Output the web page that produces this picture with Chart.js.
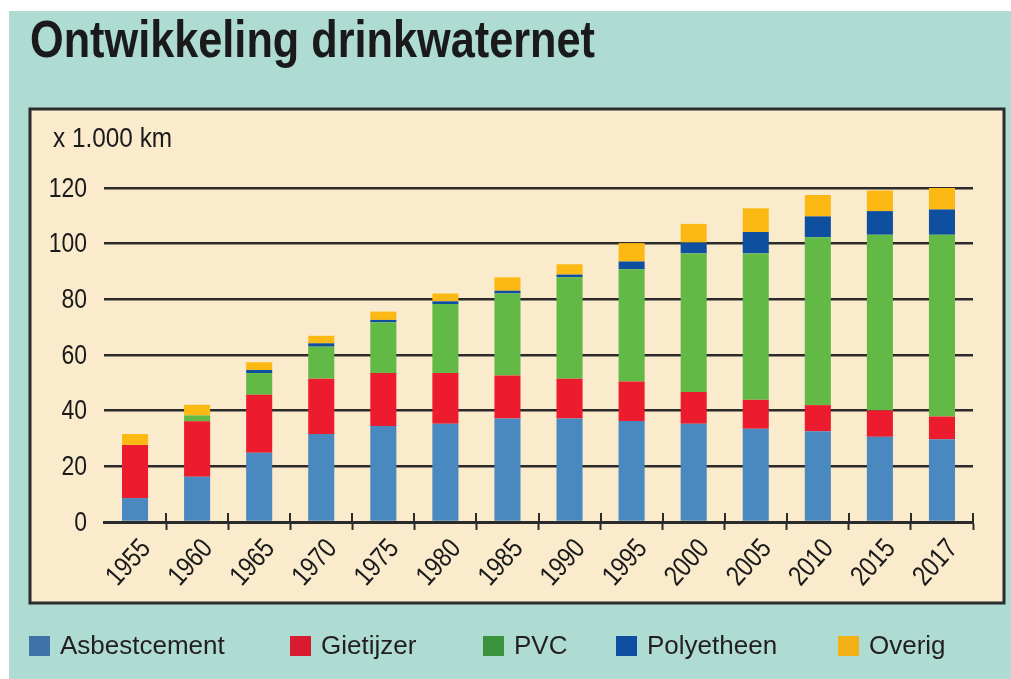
<!DOCTYPE html>
<html>
<head>
<meta charset="utf-8">
<title>Ontwikkeling drinkwaternet</title>
<script src="https://cdn.jsdelivr.net/npm/chart.js@4.4.0/dist/chart.umd.min.js"></script>
<style>
	html, body { margin: 0; padding: 0; background: #fff; }
</style>
</head>
<body>
<canvas id="myChart" width="1011" height="679"></canvas>
<script>
var jaren = ["1955", "1960", "1965", "1970", "1975", "1980", "1985", "1990", "1995", "2000", "2005", "2010", "2015", "2017"];
var asbestcement = [8.6, 16.3, 24.9, 31.6, 34.5, 35.3, 37.2, 37.2, 36.3, 35.3, 33.5, 32.6, 30.6, 29.7];
var gietijzer = [19.1, 19.9, 20.8, 19.9, 19.0, 18.2, 15.4, 14.3, 14.2, 11.4, 10.4, 9.4, 9.5, 8.2];
var pvc = [0, 2.1, 7.8, 11.5, 18.2, 24.8, 29.5, 36.4, 40.3, 49.8, 52.6, 60.3, 63.1, 65.3];
var polyetheen = [0, 0, 1.1, 1.2, 0.9, 1.0, 1.0, 1.0, 2.8, 3.9, 7.7, 7.5, 8.5, 9.1];
var overig = [3.9, 3.8, 2.8, 2.7, 3.0, 2.8, 4.8, 3.7, 6.6, 6.7, 8.5, 7.7, 7.4, 8.5];
var yMin = 0, yMax = 120, yStap = 20;
var titel = "Ontwikkeling drinkwaternet";
var eenheid = "x 1.000 km";

var fam = "'Liberation Sans', Arial, sans-serif";
var inkt = "#1a1a1a";

// smalle letters: er is geen condensed font, dus horizontaal samendrukken
function smalTekst(ctx, tekst, x, y, sx, hoek) {
	ctx.save();
	ctx.translate(x, y);
	if (hoek) ctx.rotate(hoek);
	ctx.scale(sx, 1);
	ctx.fillText(tekst, 0, 0);
	ctx.restore();
}

var decor = {
	id: "decor",
	beforeDraw: function(chart) {
		var ctx = chart.ctx;
		ctx.save();
		ctx.fillStyle = "#ffffff";
		ctx.fillRect(0, 0, chart.width, chart.height);
		ctx.fillStyle = "#aedbd2";
		ctx.fillRect(9, 11, chart.width - 9, chart.height - 11);
		ctx.fillStyle = "#fbebcd";
		ctx.fillRect(30, 109, 974, 494);
		ctx.lineWidth = 3;
		ctx.strokeStyle = "#2b2b2b";
		ctx.strokeRect(30, 109, 974, 494);
		ctx.restore();
	},
	afterDatasetsDraw: function(chart) {
		// tickmarks steken ook boven de nullijn uit
		var ctx = chart.ctx;
		var xs = chart.scales.x;
		var y0 = chart.chartArea.bottom;
		ctx.save();
		ctx.strokeStyle = "#2b2b2b";
		ctx.lineWidth = 2;
		ctx.beginPath();
		for (var i = 1; i < jaren.length; i++) {
			var x = Math.round((xs.getPixelForTick(i - 1) + xs.getPixelForTick(i)) / 2);
			ctx.moveTo(x, y0 - 9);
			ctx.lineTo(x, y0);
		}
		ctx.moveTo(chart.chartArea.right, y0 - 9);
		ctx.lineTo(chart.chartArea.right, y0);
		ctx.stroke();
		ctx.restore();
	},
	afterDraw: function(chart) {
		var ctx = chart.ctx;
		var xs = chart.scales.x;
		var ys = chart.scales.y;
		ctx.save();
		ctx.fillStyle = inkt;

		// titel
		ctx.font = "bold 52px " + fam;
		ctx.textAlign = "left";
		ctx.textBaseline = "alphabetic";
		smalTekst(ctx, titel, 30, 57, 0.832);

		// eenheid
		ctx.font = "28px " + fam;
		smalTekst(ctx, eenheid, 53, 147, 0.87);

		// y-as labels
		ctx.font = "28px " + fam;
		ctx.textAlign = "right";
		ctx.textBaseline = "middle";
		ys.ticks.forEach(function(t) {
			smalTekst(ctx, String(t.value), chart.chartArea.left - 17, ys.getPixelForValue(t.value) + 1, 0.82);
		});

		// x-as labels, schuin
		xs.ticks.forEach(function(t, i) {
			smalTekst(ctx, jaren[i], xs.getPixelForTick(i) + 11, chart.chartArea.bottom + 22, 0.82, -48 * Math.PI / 180);
		});

		// legenda
		var legX = [29, 290, 483, 616, 838];
		ctx.font = "26px " + fam;
		ctx.textAlign = "left";
		ctx.textBaseline = "middle";
		chart.data.datasets.forEach(function(ds, i) {
			ctx.fillStyle = ds.legendColor;
			ctx.fillRect(legX[i], 636, 21, 20);
			ctx.fillStyle = "#231f20";
			ctx.fillText(ds.label, legX[i] + 31, 647);
		});
		ctx.restore();
	}
};

var ctx = document.getElementById("myChart");

var data = {
	labels: jaren,
	datasets: [
		{ label: "Asbestcement", data: asbestcement, backgroundColor: "#4a89bf", legendColor: "#3f72a6" },
		{ label: "Gietijzer", data: gietijzer, backgroundColor: "#ec1c2e", legendColor: "#d81b30" },
		{ label: "PVC", data: pvc, backgroundColor: "#62b946", legendColor: "#3b923c" },
		{ label: "Polyetheen", data: polyetheen, backgroundColor: "#0e4fa0", legendColor: "#0e4d9f" },
		{ label: "Overig", data: overig, backgroundColor: "#fdb913", legendColor: "#f2b117" }
	]
};

var myChart = new Chart(ctx, {
	type: "bar",
	data: data,
	plugins: [decor],
	options: {
		responsive: false,
		animation: false,
		layout: { padding: { top: 188, left: 30, right: 38, bottom: 57 } },
		datasets: {
			bar: { categoryPercentage: 1, barPercentage: 0.42, borderWidth: 0 }
		},
		plugins: {
			legend: { display: false },
			tooltip: { enabled: false },
			title: { display: false }
		},
		scales: {
			x: {
				stacked: true,
				afterFit: function(scale) { scale.height = 100; },
				grid: {
					offset: true,
					drawOnChartArea: false,
					drawTicks: true,
					tickLength: 8,
					tickWidth: 2,
					color: function(c) { return c.index === 0 ? "rgba(0,0,0,0)" : "#2b2b2b"; }
				},
				border: { display: true, color: "#2b2b2b", width: 3 },
				ticks: { display: false, autoSkip: false }
			},
			y: {
				stacked: true,
				min: yMin,
				max: yMax,
				afterFit: function(scale) { scale.width = 74; },
				grid: { drawTicks: false, color: "#2b2b2b", lineWidth: 2.5 },
				border: { display: false },
				ticks: { display: false, stepSize: yStap }
			}
		}
	}
});
</script>
</body>
</html>
